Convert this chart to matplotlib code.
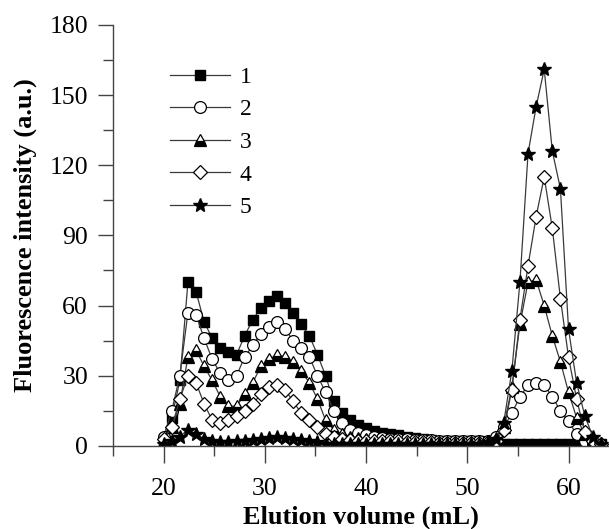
import matplotlib.pyplot as plt
from matplotlib.ticker import MultipleLocator

plt.rcParams['font.family'] = ['Liberation Serif', 'DejaVu Serif']

# elution volume of each fraction (mL)
volume = [20.0, 20.8, 21.6, 22.4, 23.2, 24.0, 24.8, 25.6, 26.4, 27.2,
          28.0, 28.8, 29.6, 30.4, 31.2, 32.0, 32.8, 33.6, 34.4, 35.2,
          36.0, 36.8, 37.6, 38.4, 39.2, 40.0, 40.8, 41.6, 42.4, 43.2,
          44.0, 44.8, 45.6, 46.4, 47.2, 48.0, 48.8, 49.6, 50.4, 51.2,
          52.0, 52.8, 53.6, 54.4, 55.2, 56.0, 56.8, 57.6, 58.4, 59.2,
          60.0, 60.8, 61.6, 62.4, 63.2]

s1 = [3, 12, 28, 70, 66, 53, 46, 42, 40, 39,
      47, 54, 59, 62, 64, 61, 57, 52, 47, 39,
      30, 19, 14, 11, 9, 7.5, 6.5, 5.5, 5, 4.5,
      4, 3.5, 3, 2.5, 2.2, 2, 2, 2, 2, 2,
      1.5, 1.5, 1, 1, 1, 1, 1, 1, 1, 1,
      1, 1, 1, 1, 1]
s2 = [4, 15, 30, 57, 56, 46, 37, 31, 28, 30,
      38, 43, 48, 51, 53, 50, 45, 42, 38, 30,
      23, 15, 10, 7, 5.5, 4.5, 4, 3.5, 3, 3,
      2.8, 2.6, 2.5, 2.4, 2.3, 2.2, 2.1, 2, 2, 2,
      2, 4, 8, 14, 21, 26, 27, 26, 21, 15,
      10.5, 5, 2, 1, 0.5]
s3 = [2, 8, 18, 38, 41, 34, 28, 21, 17, 17,
      22, 27, 34, 37, 39, 38, 36, 32, 27, 20,
      11, 7, 5, 4, 3.5, 3, 2.5, 2.2, 2, 2,
      1.8, 1.6, 1.5, 1.5, 1.4, 1.3, 1.2, 1.2, 1.2, 1.5,
      2, 3, 8, 25, 52, 70, 71, 60, 47, 36,
      23, 12, 5, 2, 1]
s4 = [3, 8, 20, 30, 27, 18, 11, 10, 11, 13,
      15, 18, 22, 25, 26, 24, 19, 14, 11, 8,
      5, 4, 3, 2.5, 2.2, 2, 2, 2, 2, 2,
      1.8, 1.6, 1.5, 1.5, 1.4, 1.3, 1.2, 1.2, 1.2, 1.2,
      1.5, 2, 7, 24, 54, 77, 98, 115, 93, 63,
      38, 20, 6, 2, 1]
s5 = [1, 2, 4, 7, 5, 3, 2, 1.5, 1.5, 2,
      2, 2.5, 3, 3.5, 4, 3.5, 3, 2.5, 2, 1.5,
      1, 1, 1, 1, 1, 1, 1, 1, 1, 1,
      1, 1, 1, 1, 1, 1, 1, 1, 1, 1,
      1.5, 3, 10, 32, 70, 125, 145, 161, 126, 110,
      50, 27, 13, 4, 1]

labels = ['1', '2', '3', '4', '5']

fig = plt.figure(figsize=(6.09, 5.29), dpi=100)
ax = fig.add_axes([0.1856, 0.157, 0.8144, 0.796])

lc = '#3a3a3a'
ax.plot(volume, s1, '-', color=lc, lw=0.9, marker='s', ms=7.5,
        mfc='black', mec='black', label=labels[0])
ax.plot(volume, s2, '-', color=lc, lw=0.9, marker='o', ms=8.5,
        mfc='white', mec='black', mew=0.9, label=labels[1])
ax.plot(volume, s3, '-', color=lc, lw=0.9, marker='^', ms=8.5,
        fillstyle='bottom', mfc='black', mfcalt='white', mec='black',
        mew=0.9, label=labels[2])
ax.plot(volume, s4, '-', color=lc, lw=0.9, marker='D', ms=7.5,
        mfc='white', mec='black', mew=0.9, label=labels[3])
ax.plot(volume, s5, '-', color=lc, lw=0.9, marker='*', ms=10.5,
        mfc='black', mec='black', label=labels[4])

ax.set_xlim(15, 64)
ax.set_ylim(0, 180)
ax.xaxis.set_minor_locator(MultipleLocator(5))
ax.yaxis.set_major_locator(MultipleLocator(30))
ax.yaxis.set_minor_locator(MultipleLocator(15))
ax.set_xticks([20, 30, 40, 50, 60])

for s in ['top', 'right']:
    ax.spines[s].set_visible(False)
for s in ['left', 'bottom']:
    ax.spines[s].set_color('#444444')
    ax.spines[s].set_linewidth(1.0)

ax.tick_params(which='major', direction='out', width=1,
               color='#444444', labelsize=18.5)
ax.tick_params(which='minor', direction='out', length=7, width=1,
               color='#444444')
ax.tick_params(axis='y', which='major', length=11, pad=7)
ax.tick_params(axis='x', which='major', length=12, pad=11)

ax.set_xlabel('Elution volume (mL)', fontsize=19, fontweight='bold',
              labelpad=4)
ax.set_ylabel('Fluorescence intensity (a.u.)', fontsize=19,
              fontweight='bold', labelpad=9)

ax.legend(loc='upper left', bbox_to_anchor=(0.072, 0.952), frameon=False,
          numpoints=1, handlelength=2.55, fontsize=17, labelspacing=0.47,
          handletextpad=0.4)

fig.savefig('out.png', dpi=100, facecolor='white')
